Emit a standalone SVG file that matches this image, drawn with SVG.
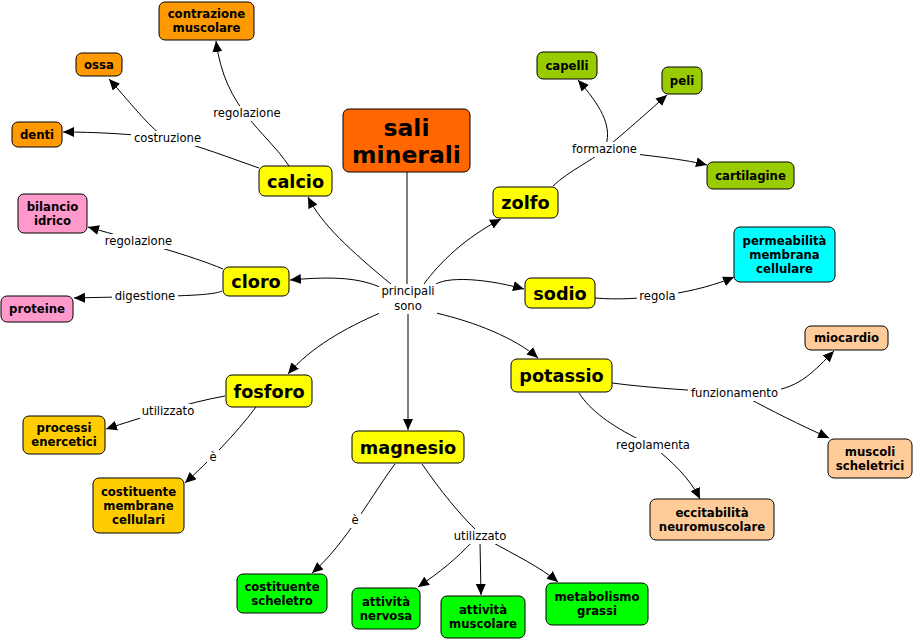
<svg xmlns="http://www.w3.org/2000/svg" width="915" height="639" viewBox="0 0 915 639">
<style>
.n rect{stroke:#000;stroke-width:1}
.n text{font-family:"DejaVu Sans",Verdana,sans-serif;font-weight:bold;text-anchor:middle;fill:#000}
.leaf text{font-size:11.7px}
.main text{font-size:17.7px}
.c path{fill:none;stroke:#000;stroke-width:1}
.lab rect{fill:#fff}
.lab text{font-family:"DejaVu Sans",Verdana,sans-serif;font-size:11.6px;text-anchor:middle;fill:#000}
</style>
<defs>
<marker id="a" markerWidth="12" markerHeight="10" refX="11" refY="5" orient="auto" markerUnits="userSpaceOnUse"><path d="M0,0 L11,5 L0,10 z" fill="#000"/></marker>
</defs>
<rect width="915" height="639" fill="#fff"/>
<g id="connectors" class="c">
<path d="M407,172 L407,286"/>
<path d="M392,285 C350,250 322,225 308,197" marker-end="url(#a)"/>
<path d="M382,288 C360,278 335,276 290,280" marker-end="url(#a)"/>
<path d="M424,284 C440,262 465,238 501,219" marker-end="url(#a)"/>
<path d="M432,288 C438,276 480,277 524,289" marker-end="url(#a)"/>
<path d="M436,313 C475,322 515,338 538,358" marker-end="url(#a)"/>
<path d="M408,312 L408,430" marker-end="url(#a)"/>
<path d="M380,313 C345,328 310,348 288,374" marker-end="url(#a)"/>
<path d="M289,166 C265,130 225,110 216,41" marker-end="url(#a)"/>
<path d="M259,168 C230,158 200,146 167,138"/>
<path d="M167,138 C130,134 95,132 63,132" marker-end="url(#a)"/>
<path d="M160,134 C145,122 128,100 109,79" marker-end="url(#a)"/>
<path d="M553,186 C570,170 590,162 604,150"/>
<path d="M606,145 C612,125 600,105 578,80" marker-end="url(#a)"/>
<path d="M612,143 C630,128 650,110 667,95" marker-end="url(#a)"/>
<path d="M604,150 C630,154 680,158 707,165" marker-end="url(#a)"/>
<path d="M595,298 C640,302 700,292 734,277" marker-end="url(#a)"/>
<path d="M223,269 C190,255 140,242 88,227" marker-end="url(#a)"/>
<path d="M222,291 C210,297 150,296 74,298" marker-end="url(#a)"/>
<path d="M225,396 C190,402 140,418 106,429" marker-end="url(#a)"/>
<path d="M256,407 C235,435 210,460 185,483" marker-end="url(#a)"/>
<path d="M395,464 C375,490 345,545 312,573" marker-end="url(#a)"/>
<path d="M422,464 C440,490 460,515 478,532"/>
<path d="M474,540 C455,560 440,572 418,587" marker-end="url(#a)"/>
<path d="M480,542 L481,595" marker-end="url(#a)"/>
<path d="M490,541 C515,555 540,567 558,582" marker-end="url(#a)"/>
<path d="M612,383 C650,388 700,391 735,393"/>
<path d="M770,391 C800,388 815,370 834,351" marker-end="url(#a)"/>
<path d="M748,398 C770,410 800,425 829,438" marker-end="url(#a)"/>
<path d="M579,393 C590,410 610,425 640,440"/>
<path d="M655,448 C670,460 690,478 700,499" marker-end="url(#a)"/>
</g>
<g id="labels" class="lab">
<g><rect x="211" y="106" width="72" height="15"/><text x="247" y="117">regolazione</text></g>
<g><rect x="131" y="131" width="73" height="15"/><text x="167.5" y="142">costruzione</text></g>
<g><rect x="569" y="142" width="71" height="15"/><text x="604.5" y="153">formazione</text></g>
<g><rect x="637" y="289" width="41" height="15"/><text x="657.5" y="300">regola</text></g>
<g><rect x="102" y="234" width="73" height="15"/><text x="138.5" y="245">regolazione</text></g>
<g><rect x="112" y="289" width="66" height="15"/><text x="145" y="300">digestione</text></g>
<g><rect x="379" y="284" width="58" height="30"/><text x="408" y="295">principali</text><text x="408" y="310">sono</text></g>
<g><rect x="140" y="404" width="57" height="15"/><text x="168" y="415">utilizzato</text></g>
<g><rect x="207" y="450" width="12" height="15"/><text x="213" y="461">è</text></g>
<g><rect x="451" y="529" width="58" height="15"/><text x="480" y="540">utilizzato</text></g>
<g><rect x="349" y="513" width="12" height="15"/><text x="355" y="524">è</text></g>
<g><rect x="688" y="386" width="93" height="15"/><text x="734.5" y="397">funzionamento</text></g>
<g><rect x="613" y="438" width="80" height="15"/><text x="653" y="449">regolamenta</text></g>
</g>
<g id="sali" class="n"><rect x="343" y="109" width="127" height="63" rx="6" fill="#FF6600"/><text x="406.5" y="135.6" style="font-size:23.5px">sali</text><text x="406.5" y="162.6" style="font-size:23.5px">minerali</text></g>
<g id="calcio" class="n main"><rect x="259" y="166" width="73" height="30" rx="6" fill="#FFFF00"/><text x="295.5" y="187.5">calcio</text></g>
<g id="zolfo" class="n main"><rect x="493" y="187" width="65" height="31" rx="6" fill="#FFFF00"/><text x="525.5" y="209">zolfo</text></g>
<g id="cloro" class="n main"><rect x="223" y="267" width="66" height="29" rx="6" fill="#FFFF00"/><text x="256" y="288">cloro</text></g>
<g id="sodio" class="n main"><rect x="525" y="278" width="70" height="30" rx="6" fill="#FFFF00"/><text x="560" y="299.5">sodio</text></g>
<g id="fosforo" class="n main"><rect x="226" y="375" width="86" height="32" rx="6" fill="#FFFF00"/><text x="269" y="397.5">fosforo</text></g>
<g id="potassio" class="n main"><rect x="511" y="359" width="101" height="33" rx="6" fill="#FFFF00"/><text x="561.5" y="382">potassio</text></g>
<g id="magnesio" class="n main"><rect x="352" y="431" width="112" height="32" rx="6" fill="#FFFF00"/><text x="408" y="453.5">magnesio</text></g>
<g id="contrazione" class="n leaf"><rect x="159" y="2" width="95" height="38" rx="6" fill="#FF9900"/><text x="206.5" y="18.3">contrazione</text><text x="206.5" y="32.3">muscolare</text></g>
<g id="ossa" class="n leaf"><rect x="76" y="53" width="46" height="23" rx="6" fill="#FF9900"/><text x="99" y="68.8">ossa</text></g>
<g id="denti" class="n leaf"><rect x="12" y="122" width="50" height="25" rx="6" fill="#FF9900"/><text x="37" y="138.8">denti</text></g>
<g id="capelli" class="n leaf"><rect x="537" y="52" width="60" height="27" rx="6" fill="#99CC00"/><text x="567" y="69.8">capelli</text></g>
<g id="peli" class="n leaf"><rect x="662" y="67" width="40" height="27" rx="6" fill="#99CC00"/><text x="682" y="84.8">peli</text></g>
<g id="cartilagine" class="n leaf"><rect x="707" y="162" width="87" height="27" rx="6" fill="#99CC00"/><text x="750.5" y="179.8">cartilagine</text></g>
<g id="permeabilita" class="n leaf"><rect x="734" y="227" width="101" height="55" rx="6" fill="#00FFFF"/><text x="784.5" y="244.8">permeabilità</text><text x="784.5" y="258.8">membrana</text><text x="784.5" y="272.8">cellulare</text></g>
<g id="bilancio" class="n leaf"><rect x="18" y="194" width="69" height="39" rx="6" fill="#FF99CC"/><text x="52.5" y="210.8">bilancio</text><text x="52.5" y="224.8">idrico</text></g>
<g id="proteine" class="n leaf"><rect x="1" y="296" width="72" height="26" rx="6" fill="#FF99CC"/><text x="37" y="313.3">proteine</text></g>
<g id="processi" class="n leaf"><rect x="23" y="416" width="82" height="38" rx="6" fill="#FFCC00"/><text x="64" y="432.3">processi</text><text x="64" y="446.3">enercetici</text></g>
<g id="membrane" class="n leaf"><rect x="93" y="478" width="91" height="55" rx="6" fill="#FFCC00"/><text x="138.5" y="495.8">costituente</text><text x="138.5" y="509.8">membrane</text><text x="138.5" y="523.8">cellulari</text></g>
<g id="miocardio" class="n leaf"><rect x="805" y="326" width="83" height="24" rx="6" fill="#FFCC99"/><text x="846.5" y="342.3">miocardio</text></g>
<g id="muscoli" class="n leaf"><rect x="828" y="439" width="84" height="39" rx="6" fill="#FFCC99"/><text x="870" y="455.8">muscoli</text><text x="870" y="469.8">scheletrici</text></g>
<g id="eccitabilita" class="n leaf"><rect x="650" y="499" width="124" height="41" rx="6" fill="#FFCC99"/><text x="712" y="516.8">eccitabilità</text><text x="712" y="530.8">neuromuscolare</text></g>
<g id="scheletro" class="n leaf"><rect x="237" y="574" width="90" height="39" rx="6" fill="#00FF00"/><text x="282" y="590.8">costituente</text><text x="282" y="604.8">scheletro</text></g>
<g id="nervosa" class="n leaf"><rect x="352" y="588" width="68" height="41" rx="6" fill="#00FF00"/><text x="386" y="605.8">attività</text><text x="386" y="619.8">nervosa</text></g>
<g id="muscolare" class="n leaf"><rect x="441" y="596" width="84" height="42" rx="6" fill="#00FF00"/><text x="483" y="614.3">attività</text><text x="483" y="628.3">muscolare</text></g>
<g id="metabolismo" class="n leaf"><rect x="546" y="583" width="102" height="42" rx="6" fill="#00FF00"/><text x="597" y="601.3">metabolismo</text><text x="597" y="615.3">grassi</text></g>
</svg>
